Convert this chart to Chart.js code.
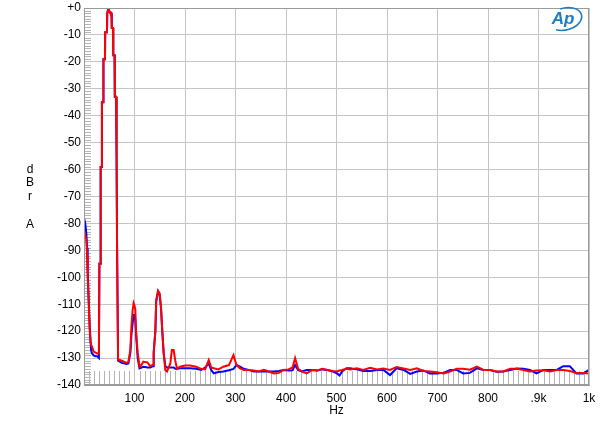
<!DOCTYPE html>
<html>
<head>
<meta charset="utf-8">
<script src="https://cdn.jsdelivr.net/npm/chart.js@4.4.1/dist/chart.umd.min.js"></script>
<style>
  html, body { margin: 0; padding: 0; background: #fff; }
  #wrap { width: 600px; height: 427px; }
</style>
</head>
<body>
<div id="wrap"><canvas id="c" width="600" height="427"></canvas></div>
<script>
// ---- Data (Hz, dBr A) ----
// Segment A: 0 - 185 Hz (fundamental + low harmonics)
const freqA = [0, 2.5, 4.7, 6.1, 7.3, 9.3, 11.3, 12.7, 14, 16,
  19, 23, 26, 29.5, 30.5, 32.5, 33, 35, 35.5, 38,
  38.5, 41.5, 42, 45.5, 46, 47.5, 48.5, 49.5, 50.5, 52.5,
  53, 54.5, 55, 57.5, 58, 60.5, 61, 63.5, 64, 65,
  65.5, 67, 67.5, 75, 84, 87.8, 91.8, 94, 96.4, 98.3,
  100, 101.7, 103, 106.3, 110, 114, 117.5, 121, 125.4, 131.4,
  136.7, 138, 141.3, 143, 146.6, 149.8, 152.5, 155, 157.7, 161,
  164.4, 171, 174, 177.5, 180.8, 184.2];
const redA = [-83, -84.5, -86, -92, -100, -109.6, -119.6, -124, -125, -125.8,
  -127.6, -128, -128.3, -128.3, -95, -95, -59, -59, -35, -35,
  -19, -19, -9, -9, -2, -2, 0, -0.5, -1.6, -1.6,
  -2, -2, -7.4, -7.4, -17.5, -17.5, -33, -33, -55, -55,
  -89, -89, -130.5, -131, -131.8, -131.5, -127, -118, -112, -109.6,
  -110.5, -112, -119.6, -128, -133.2, -132.5, -131.3, -131.5, -131.6, -133,
  -132.5, -128, -120, -108.4, -105, -106, -111, -120, -128, -134.4,
  -135, -132, -127, -127, -131, -134];
const blueA = [-78, -80, -84, -89, -97, -108, -118, -122.5, -127, -128.3,
  -129, -129.3, -129.3, -130, -95, -95, -59, -59, -35, -35,
  -19, -19, -9, -9, -2, -2, 0, -0.5, -1.6, -1.6,
  -2, -2, -7.4, -7.4, -17.5, -17.5, -33, -33, -55, -55,
  -89, -89, -131, -131.8, -132.2, -132, -128, -121, -117, -114,
  -114, -116, -121, -130, -133.8, -133.5, -133.2, -133.3, -133.5, -133.5,
  -133, -128, -120, -109, -105.3, -106.5, -111.5, -120, -128, -133,
  -133.5, -133.5, -133.5, -133.5, -134, -134];

// Segment B: 190 - 520 Hz
const freqB = [190, 200, 210, 222, 232, 240, 247, 252, 257, 266,
  276, 287, 296, 302, 309, 316, 326, 336, 346, 356,
  366, 376, 386, 395, 405, 413, 418, 424, 432, 441,
  452, 462, 472, 482, 493, 501, 506, 511, 520];
const redB = [-133.2, -132.8, -132.8, -133.2, -134.0, -134.2, -130.7, -133.5, -133.8, -134.2,
  -133.2, -132.6, -128.9, -132.6, -133.8, -134.4, -134.4, -134.6, -135.0, -134.4,
  -135.0, -135.7, -135.5, -134.4, -134.2, -133.5, -130.0, -134.0, -135.0, -135.7,
  -134.4, -134.6, -134.0, -134.4, -134.8, -135.0, -134.6, -134.4, -134.0];
const blueB = [-133.8, -133.8, -133.8, -134.0, -134.4, -133.5, -132.0, -134.5, -135.7, -135.2,
  -135.0, -134.5, -134.0, -132.6, -133.2, -134.0, -134.4, -135.0, -135.0, -135.0,
  -135.0, -135.0, -134.8, -134.4, -134.6, -134.5, -132.6, -134.5, -135.0, -134.4,
  -134.4, -134.6, -134.2, -134.4, -135.0, -135.7, -136.5, -135.0, -133.8];

// Segment C: 527 - 1000 Hz
const freqC = [527, 540, 553, 567, 580, 593, 606, 619, 633, 646,
  659, 672, 685, 699, 712, 725, 738, 751, 764, 778,
  791, 804, 817, 830, 844, 857, 870, 883, 896, 910,
  923, 936, 949, 962, 975, 989, 1000];
const redC = [-134.2, -133.8, -134.4, -133.6, -134.2, -133.9, -134.4, -133.3, -133.9, -134.4,
  -133.8, -134.8, -135.0, -135.3, -135.7, -135.0, -134.0, -134.0, -134.3, -133.2,
  -134.4, -134.4, -135.0, -135.0, -134.0, -134.0, -134.4, -135.0, -134.6, -134.5,
  -135.0, -134.4, -134.4, -134.8, -135.5, -135.5, -135.7];
const blueC = [-133.8, -134.2, -134.8, -134.8, -134.4, -134.4, -136.3, -133.8, -134.4, -135.9,
  -135.0, -134.6, -135.7, -135.7, -135.5, -134.4, -134.4, -135.7, -135.5, -133.8,
  -134.4, -134.4, -135.1, -135.0, -134.4, -133.9, -134.0, -134.4, -135.7, -134.4,
  -134.4, -134.4, -133.0, -133.0, -135.7, -135.7, -134.4];

const freqHz = freqA.concat(freqB, freqC);
const redDb = redA.concat(redB, redC);
const blueDb = blueA.concat(blueB, blueC);

const xTickLabels = {100:'100',200:'200',300:'300',400:'400',500:'500',600:'600',700:'700',800:'800',900:'.9k',1000:'1k'};
const yTicks = [0,-10,-20,-30,-40,-50,-60,-70,-80,-90,-100,-110,-120,-130,-140];

const FONT = '"Liberation Sans", Arial, sans-serif';

const toPts = (ys) => freqHz.map((f, i) => ({x: f, y: ys[i]}));

const decor = {
  id: 'decor',
  beforeDatasetsDraw(chart) {
    const {ctx, chartArea: a, scales: {x, y}} = chart;
    ctx.save();
    ctx.strokeStyle = '#b4b4b4';
    ctx.lineWidth = 1;
    ctx.beginPath();
    for (let v = -139; v < 0; v++) {
      if (v % 10 === 0) continue;
      const py = Math.round(y.getPixelForValue(v)) + 0.5;
      ctx.moveTo(a.left, py); ctx.lineTo(a.left + 7, py);
    }
    for (let f = 10; f < 1000; f += 10) {
      if (f % 100 === 0) continue;
      const px = Math.round(x.getPixelForValue(f)) + 0.5;
      ctx.moveTo(px, a.bottom); ctx.lineTo(px, a.bottom - 14);
    }
    ctx.stroke();
    ctx.restore();
  },
  afterDraw(chart) {
    const {ctx, chartArea: a} = chart;
    ctx.save();
    ctx.strokeStyle = '#9a9a9a';
    ctx.lineWidth = 1;
    ctx.strokeRect(a.left + 0.5, a.top + 0.5, a.right - a.left - 1, a.bottom - a.top - 1);
    ctx.fillStyle = '#000';
    ctx.font = '12px ' + FONT;
    ctx.textAlign = 'center';
    ctx.textBaseline = 'middle';
    ctx.fillText('Hz', (a.left + a.right) / 2, 411);
    ctx.fillText('d', 30, 170);
    ctx.fillText('B', 30, 183);
    ctx.fillText('r', 30, 197);
    ctx.fillText('A', 30, 225);
    ctx.fillStyle = '#1c7cc4';
    ctx.font = 'italic bold 17px ' + FONT;
    ctx.fillText('Ap', 563, 19);
    ctx.strokeStyle = '#1c7cc4';
    ctx.lineWidth = 1.6;
    ctx.beginPath();
    ctx.ellipse(565, 19, 17, 11, -0.25, -1.7, 2.3);
    ctx.stroke();
    ctx.restore();
  }
};

new Chart(document.getElementById('c'), {
  type: 'line',
  data: {
    datasets: [
      { label: 'Right', data: toPts(redDb), borderColor: '#ff0000', borderWidth: 2, pointRadius: 0, tension: 0 },
      { label: 'Left', data: toPts(blueDb), borderColor: '#0000ff', borderWidth: 2, pointRadius: 0, tension: 0 }
    ]
  },
  options: {
    responsive: false,
    animation: false,
    events: [],
    layout: { padding: { left: 0, right: 11, top: 8, bottom: 0 } },
    plugins: { legend: { display: false }, tooltip: { enabled: false } },
    scales: {
      x: {
        type: 'linear', min: 0, max: 1000,
        afterFit: (s) => { s.height = 42; s.paddingLeft = 0; s.paddingRight = 0; },
        afterBuildTicks: (s) => { s.ticks = Object.keys(xTickLabels).map(v => ({value: +v})).concat([{value: 0}]).sort((p, q) => p.value - q.value); },
        ticks: {
          callback: (v) => xTickLabels[v] || '',
          color: '#000', font: { family: FONT, size: 12 }, padding: 6, maxRotation: 0, autoSkip: false
        },
        grid: { color: '#c4c4c4', lineWidth: 1, drawTicks: false },
        border: { color: '#9a9a9a' }
      },
      y: {
        min: -140, max: 0,
        afterFit: (s) => { s.width = 84; s.paddingTop = 0; s.paddingBottom = 0; },
        afterBuildTicks: (s) => { s.ticks = yTicks.map(v => ({value: v})); },
        ticks: {
          callback: (v) => v === 0 ? '+0' : String(v),
          color: '#000', font: { family: FONT, size: 12 }, padding: 3, autoSkip: false
        },
        grid: { color: '#c4c4c4', lineWidth: 1, drawTicks: false },
        border: { color: '#9a9a9a' }
      }
    }
  },
  plugins: [decor]
});
</script>
</body>
</html>
